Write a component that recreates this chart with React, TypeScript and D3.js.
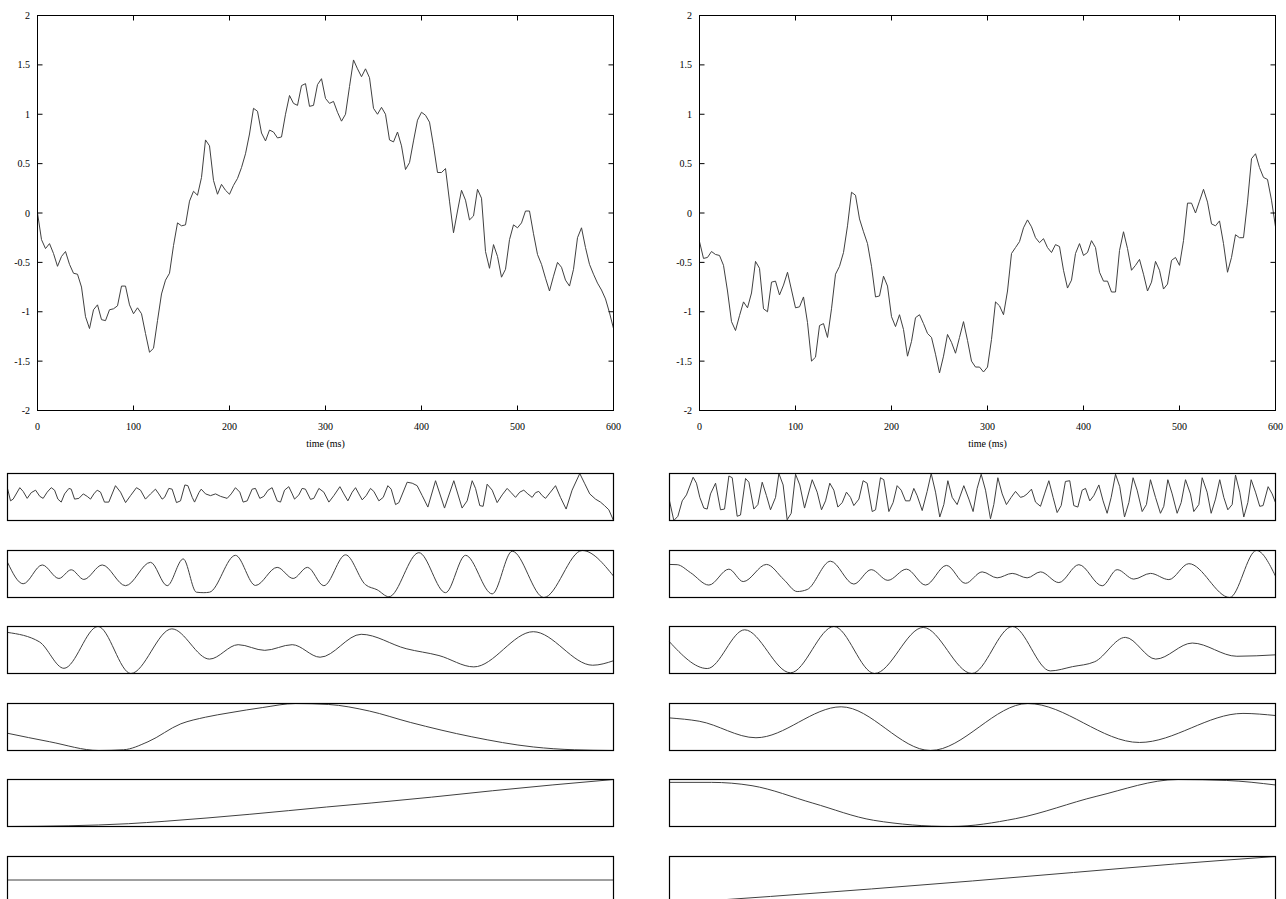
import React from 'react';
import * as d3 from 'd3';

// ---------- data ----------
const SAMPLE_COUNT = 145;
const sampleTimes = d3.range(SAMPLE_COUNT).map((i) => (i * 600) / (SAMPLE_COUNT - 1));

const leftSignal = [
  0.0, -0.27, -0.36, -0.31, -0.41, -0.54, -0.44, -0.39, -0.52, -0.61,
  -0.62, -0.75, -1.05, -1.17, -0.98, -0.93, -1.08, -1.09, -0.98, -0.97,
  -0.94, -0.74, -0.74, -0.93, -1.02, -0.96, -1.02, -1.22, -1.41, -1.37,
  -1.09, -0.82, -0.68, -0.61, -0.33, -0.1, -0.13, -0.12, 0.12, 0.22,
  0.18, 0.36, 0.74, 0.68, 0.33, 0.19, 0.29, 0.23, 0.19, 0.28,
  0.35, 0.46, 0.6, 0.8, 1.06, 1.03, 0.81, 0.73, 0.84, 0.82,
  0.76, 0.77, 1.0, 1.19, 1.11, 1.09, 1.29, 1.31, 1.08, 1.09,
  1.3, 1.36, 1.16, 1.11, 1.13, 1.02, 0.93, 1.0, 1.28, 1.55,
  1.46, 1.38, 1.46, 1.37, 1.06, 1.0, 1.07, 1.0, 0.74, 0.72,
  0.82, 0.68, 0.44, 0.51, 0.73, 0.94, 1.02, 0.99, 0.92, 0.68,
  0.41, 0.41, 0.45, 0.12, -0.2, 0.02, 0.23, 0.13, -0.07, -0.03,
  0.24, 0.15, -0.39, -0.56, -0.32, -0.44, -0.65, -0.57, -0.27, -0.12,
  -0.15, -0.1, 0.02, 0.02, -0.21, -0.42, -0.52, -0.66, -0.79, -0.64,
  -0.5, -0.55, -0.68, -0.74, -0.57, -0.25, -0.15, -0.35, -0.52, -0.62,
  -0.71, -0.78, -0.87, -1.01, -1.17,
];

const rightSignal = [
  -0.29, -0.46, -0.45, -0.39, -0.42, -0.43, -0.53, -0.79, -1.1, -1.19,
  -1.04, -0.9, -0.96, -0.81, -0.49, -0.56, -0.97, -1.0, -0.7, -0.69,
  -0.83, -0.73, -0.6, -0.78, -0.96, -0.95, -0.85, -1.11, -1.5, -1.46,
  -1.14, -1.12, -1.26, -0.97, -0.62, -0.54, -0.4, -0.13, 0.21, 0.18,
  -0.06, -0.19, -0.31, -0.54, -0.85, -0.84, -0.64, -0.74, -1.05, -1.15,
  -1.03, -1.18, -1.45, -1.3, -1.06, -1.03, -1.12, -1.22, -1.26, -1.43,
  -1.62, -1.45, -1.23, -1.31, -1.42, -1.26, -1.1, -1.29, -1.5, -1.56,
  -1.56, -1.61, -1.56, -1.28, -0.9, -0.94, -1.03, -0.79, -0.41, -0.35,
  -0.29, -0.15, -0.07, -0.14, -0.25, -0.3, -0.26, -0.35, -0.4, -0.32,
  -0.34, -0.58, -0.76, -0.68, -0.41, -0.31, -0.43, -0.4, -0.28, -0.35,
  -0.6, -0.69, -0.69, -0.8, -0.8, -0.38, -0.19, -0.36, -0.58, -0.53,
  -0.47, -0.62, -0.79, -0.7, -0.49, -0.58, -0.77, -0.72, -0.48, -0.45,
  -0.53, -0.28, 0.1, 0.1, 0.0, 0.12, 0.24, 0.11, -0.11, -0.13,
  -0.08, -0.31, -0.6, -0.45, -0.22, -0.25, -0.25, 0.11, 0.55, 0.6,
  0.46, 0.36, 0.34, 0.13, -0.14,
];

const yTicks = [-2, -1.5, -1, -0.5, 0, 0.5, 1, 1.5, 2];
const xTicks = [0, 100, 200, 300, 400, 500, 600];
const xAxisLabel = 'time (ms)';

type Pt = [number, number];

// decomposition levels, left column ([time ms, amplitude])
const leftLevel1: Pt[] = [
  [0, 0.36], [3, -0.14], [5.6, -0.07], [12.2, 0.39], [15.5, 0.24], [19.5, -0.04], [23.5, 0.19], [27.8, 0.29],
  [32, 0.04], [35.3, -0.04], [39.3, 0.21], [43.3, 0.39], [46.6, 0.29], [49.9, -0.07], [53.2, -0.19], [56.5, 0.14],
  [60.8, 0.36], [63.1, 0.33], [66.4, -0.07], [70.7, -0.04], [75, 0.14], [78.9, 0.04], [82.2, -0.07], [85.5, 0.14],
  [88.8, 0.29], [92.1, 0.21], [96, -0.19], [100.3, -0.19], [106.9, 0.47], [111.9, 0.21], [116.9, -0.21], [121.8, 0.07],
  [127.7, 0.39], [131.7, 0.29], [136.6, -0.07], [141.6, 0.14], [146.5, 0.33], [149.8, 0.14], [153.1, -0.07], [155.5, 0],
  [159.7, 0.36], [163, 0.33], [167.3, -0.21], [171.3, -0.14], [175.6, 0.5], [178.6, 0.47], [182.9, 0], [185.2, -0.19],
  [189.5, 0.19], [191.8, 0.33], [196.1, 0.14], [201, 0.07], [206, 0.14], [211, 0.04], [217.5, -0.04], [221.5, 0.14],
  [225.7, 0.39], [230, 0.21], [233.3, -0.19], [237.3, -0.14], [242.2, 0.33], [245.5, 0.36], [249.8, -0.04], [253.8, 0.04],
  [258, 0.29], [262, 0.39], [267, -0.14], [270.3, -0.19], [274.3, 0.29], [278.5, 0.43], [281.9, 0.14], [284.2, -0.07],
  [288.5, 0.1], [291.7, 0.36], [295, 0.33], [300, -0.08], [303.3, -0.04], [308.3, 0.36], [313.2, 0.21], [318.2, -0.19],
  [323.1, 0.07], [329.1, 0.43], [333, 0.14], [337, -0.14], [341.3, 0.21], [344.6, 0.39], [347.9, 0.14], [351.2, -0.1],
  [355.1, 0.07], [359.4, 0.36], [362.7, 0.24], [367.7, -0.14], [372, 0], [376.6, 0.47], [379.9, 0.33], [384.2, -0.29],
  [387.5, -0.21], [395.7, 0.61], [400.7, 0.57], [405.6, 0.47], [410.6, 0.07], [416.2, -0.39], [423.8, 0.67], [432.7, -0.43],
  [441.9, 0.67], [450.1, -0.43], [455.1, -0.14], [460.1, 0.67], [463.4, 0.36], [467.6, -0.33], [470.9, -0.36], [474.9, 0.53],
  [479.9, 0.29], [484.8, -0.21], [489.8, 0.1], [494.7, 0.36], [498.7, 0.19], [503, 0], [507.2, 0.21], [511.2, 0.29],
  [515.2, 0.14], [519.5, 0], [522.8, 0.19], [526, 0.24], [529.4, 0.07], [532.7, -0.04], [537.6, 0.21], [542.6, 0.47],
  [547.5, 0], [553.1, -0.47], [559, 0.29], [566.6, 0.96], [571.3, 0.57], [576.5, 0.14], [582.2, -0.07], [587.1, -0.19],
  [591.1, -0.33], [595.4, -0.5], [600, -0.93],
];
const leftLevel2: Pt[] = [
  [0, 0.5], [15.5, -0.39], [34.4, 0.39], [50.9, -0.17], [63.1, 0.19], [75.6, -0.21], [93.8, 0.39], [116.9, -0.47],
  [141.6, 0.5], [158.1, -0.47], [174, 0.64], [187, -0.74], [194.4, -0.76], [200, -0.74], [225.7, 0.79], [245.5, -0.46],
  [267, 0.29], [282.8, -0.17], [297, 0.29], [313.2, -0.47], [334.7, 0.81], [354.5, -0.43], [366, -0.64], [377.6, -0.93],
  [407.3, 0.9], [433.7, -0.76], [453.5, 0.79], [479.9, -0.81], [499.7, 0.96], [531, -0.96], [569, 0.99], [600, -0.07],
];
const leftLevel3: Pt[] = [
  [0, 0.75], [31.6, 0.35], [55.9, -0.77], [89.6, 1.0], [122.1, -0.99], [162.7, 0.9], [200, -0.38], [228.4, 0.23],
  [254.7, -0.01], [281.9, 0.23], [309.5, -0.3], [350.2, 0.67], [394.7, 0.06], [427.2, -0.23], [461.7, -0.71],
  [520.6, 0.78], [579.4, -0.64], [600, -0.45],
];
const leftLevel4: Pt[] = [
  [0, -0.26], [41.8, -0.62], [90.5, -0.99], [114.8, -0.96], [139.1, -0.62], [171.6, 0.14], [196, 0.42], [220.3, 0.61],
  [252.7, 0.83], [285.2, 1.0], [317.7, 0.96], [358.3, 0.68], [398.8, 0.2], [459.7, -0.41], [520.6, -0.84],
  [561.2, -0.96], [600, -0.99],
];
const leftLevel5: Pt[] = [
  [0, -1.0], [60, -0.97], [120, -0.88], [155, -0.78], [240, -0.48], [316, -0.17], [360, 0.0], [420, 0.25],
  [480, 0.52], [540, 0.77], [600, 1.0],
];
const leftApprox: Pt[] = [
  [0, 0.4], [600, 0.4],
];

// decomposition levels, right column
const rightLevel1: Pt[] = [
  [0, -0.14], [4.3, -0.93], [8.3, -0.76], [12.6, -0.14], [16.8, 0.1], [23.4, 0.81], [26.7, 0.57], [30, 0],
  [34, -0.43], [37.3, -0.47], [40.6, 0.14], [45.6, 0.57], [50.5, -0.5], [54.5, -0.47], [58.8, 0.86], [62.1, 0.79],
  [67, -0.76], [70.3, -0.71], [75.3, 0.76], [78.6, 0.61], [83.5, -0.47], [87.5, -0.29], [91.8, 0.61], [96, 0.07],
  [100, -0.5], [105, 0], [108.3, 0.96], [112.5, 0.5], [116.5, -0.9], [120.5, -0.64], [124.8, 0.93], [129, 0.5],
  [133.7, -0.43], [141.3, 0.71], [146.2, 0.21], [150.5, -0.5], [154.5, -0.14], [158.7, 0.57], [162.7, 0.29],
  [166.7, -0.39], [171, -0.21], [175.2, 0.21], [179.2, 0], [182.5, -0.33], [187.5, -0.07], [191.7, 0.67],
  [195.7, 0.57], [200.7, -0.57], [204, -0.5], [208.9, 0.79], [212.2, 0.71], [217.2, -0.57], [221.4, -0.21],
  [225.4, 0.47], [229.4, 0.29], [233.7, -0.14], [237.9, -0.14], [241.9, 0.36], [245.2, 0.07], [250.2, -0.53],
  [255.1, 0.24], [259.1, 0.96], [263.4, 0.21], [267.6, -0.79], [271.6, -0.29], [275.6, 0.67], [279.9, 0],
  [284.8, -0.29], [291.4, 0.47], [296.4, -0.07], [300.6, -0.57], [304.6, 0.36], [308.6, 0.93], [312.9, 0.29],
  [317.8, -0.86], [321.1, -0.29], [325.1, 0.79], [329.4, 0.14], [333.6, -0.29], [338.3, 0], [342.6, 0.24],
  [347.5, 0], [350.8, 0.04], [354.1, 0.14], [358.4, 0.33], [362.4, -0.19], [367.3, -0.36], [371.3, 0.14],
  [375.6, 0.67], [379.8, 0], [383.8, -0.61], [387.8, -0.33], [392, 0.64], [396.3, 0.67], [400.3, -0.33],
  [404.3, -0.39], [408.6, 0.29], [411.9, 0.36], [416.1, -0.14], [420.1, 0.07], [425.1, 0.5], [429.3, -0.14],
  [433.3, -0.64], [437.3, 0], [441.6, 0.93], [445.8, 0.43], [450.5, -0.79], [454.8, -0.21], [459, 0.79],
  [463, 0.29], [468, -0.57], [472.2, -0.29], [476.2, 0.71], [481.2, 0], [486.1, -0.64], [489.4, -0.36],
  [493.4, 0.71], [497.7, 0.14], [502.6, -0.64], [506.6, -0.21], [510.9, 0.71], [515.8, 0.14], [519.1, -0.57],
  [524.1, -0.29], [527.4, 0.79], [532.3, 0.21], [536.3, -0.64], [540.6, -0.07], [544.8, 0.71], [548.8, 0],
  [552.8, -0.5], [557.1, -0.29], [560.4, 0.9], [564.6, 0.21], [568.6, -0.79], [572.6, -0.21], [575.9, 0.71],
  [580.2, 0.21], [584.4, -0.36], [587.7, -0.33], [592.7, 0.43], [596.7, 0.14], [600, -0.21],
];
const rightLevel2: Pt[] = [
  [0, 0.4], [7.6, 0.39], [20.8, 0.07], [39, -0.43], [58.8, 0.21], [73, -0.29], [96, 0.4], [113.2, -0.21],
  [126.4, -0.69], [136.3, -0.61], [159.4, 0.53], [182.5, -0.39], [199.7, 0.19], [216.2, -0.24], [234.6, 0.21],
  [253.5, -0.43], [274.2, 0.36], [293, -0.36], [309.6, 0.1], [324.4, -0.14], [339.3, 0.04], [354.1, -0.14],
  [367.3, 0.1], [385.5, -0.33], [405.3, 0.39], [428.4, -0.46], [443.2, 0.19], [459.7, -0.19], [476.2, 0.04],
  [494.4, -0.21], [514.2, 0.43], [554.7, -0.93], [581.1, 0.96], [600, -0.07],
];
const rightLevel3: Pt[] = [
  [0, 0.35], [37.4, -0.78], [74.4, 0.86], [119.8, -0.96], [162.8, 1.0], [203, -0.99], [251.2, 0.96],
  [299.4, -0.99], [339.6, 1.0], [377, -0.88], [399, -0.7], [421.1, -0.49], [451.3, 0.54], [481.4, -0.38],
  [517.6, 0.3], [561.7, -0.26], [600, -0.2],
];
const rightLevel4: Pt[] = [
  [0, 0.39], [29.4, 0.25], [85.6, -0.45], [170, 0.86], [258.4, -0.99], [354.8, 1.0], [465.3, -0.65],
  [567.8, 0.58], [600, 0.49],
];
const rightLevel5: Pt[] = [
  [0, 0.88], [41.5, 0.88], [81.7, 0.74], [141.9, 0.01], [202.2, -0.71], [278.5, -0.97], [342.8, -0.64],
  [423.2, 0.3], [503.5, 1.0], [551.7, 0.96], [600, 0.77],
];
const rightApprox: Pt[] = [
  [0, 0.0], [100, 0.15], [200, 0.31], [300, 0.48], [400, 0.66], [500, 0.84], [600, 1.0],
];

const leftLevels = [leftLevel1, leftLevel2, leftLevel3, leftLevel4, leftLevel5, leftApprox];
const rightLevels = [rightLevel1, rightLevel2, rightLevel3, rightLevel4, rightLevel5, rightApprox];

// ---------- components ----------
const FONT = "'Liberation Serif', 'Times New Roman', serif";
const LINE_COLOR = '#404040';

function MainPanel({ x0, x1, values }: { x0: number; x1: number; values: number[] }) {
  const top = 15.5;
  const bottom = 410.5;
  const x = d3.scaleLinear().domain([0, 600]).range([x0, x1]);
  const y = d3.scaleLinear().domain([-2, 2]).range([bottom, top]);
  const line = d3
    .line<number>()
    .x((_, i) => x(sampleTimes[i]))
    .y((d) => y(d));
  const tl = 5;
  return (
    <g>
      <path d={line(values) || ''} fill="none" stroke={LINE_COLOR} strokeWidth={1} />
      <rect x={x0} y={top} width={x1 - x0} height={bottom - top} fill="none" stroke="#000" strokeWidth={1} />
      {yTicks.map((t) => (
        <g key={'y' + t}>
          <line x1={x0} x2={x0 + tl} y1={y(t)} y2={y(t)} stroke="#000" />
          <line x1={x1} x2={x1 - tl} y1={y(t)} y2={y(t)} stroke="#000" />
          <text x={x0 - 7.5} y={y(t)} dy="0.35em" textAnchor="end" fontSize={10} fontFamily={FONT}>
            {String(t)}
          </text>
        </g>
      ))}
      {xTicks.map((t) => (
        <g key={'x' + t}>
          <line x1={x(t)} x2={x(t)} y1={bottom} y2={bottom - tl} stroke="#000" />
          <line x1={x(t)} x2={x(t)} y1={top} y2={top + tl} stroke="#000" />
          <text x={x(t)} y={bottom + 19} textAnchor="middle" fontSize={10} fontFamily={FONT}>
            {String(t)}
          </text>
        </g>
      ))}
      <text x={(x0 + x1) / 2} y={446.5} textAnchor="middle" fontSize={10} fontFamily={FONT}>
        {xAxisLabel}
      </text>
    </g>
  );
}

function SmallPanel({ x0, x1, top, height, data, smooth }: { x0: number; x1: number; top: number; height: number; data: Pt[]; smooth: boolean }) {
  const x = d3.scaleLinear().domain([0, 600]).range([x0, x1]);
  let [lo, hi] = d3.extent(data, (d) => d[1]) as [number, number];
  if (lo === hi) {
    lo -= 1;
    hi += 1;
  }
  const y = d3.scaleLinear().domain([lo, hi]).range([top + height, top]);
  const line = d3
    .line<Pt>()
    .x((d) => x(d[0]))
    .y((d) => y(d[1]))
    .curve(smooth ? d3.curveMonotoneX : d3.curveLinear);
  return (
    <g>
      <path d={line(data) || ''} fill="none" stroke={LINE_COLOR} strokeWidth={1} />
      <rect x={x0} y={top} width={x1 - x0} height={height} fill="none" stroke="#000" strokeWidth={1.2} />
    </g>
  );
}

export default function App() {
  const rowTops = d3.range(6).map((k) => Math.round(473 + 76.5 * k) + 0.5);
  const h = 47;
  return (
    <svg
      width={1286}
      height={899}
      style={{ position: 'absolute', left: 0, top: 0, background: '#fff' }}
    >
      <rect x={0} y={0} width={1286} height={899} fill="#fff" />
      <MainPanel x0={37.5} x1={613.5} values={leftSignal} />
      <MainPanel x0={699.5} x1={1275.5} values={rightSignal} />
      {leftLevels.map((d, k) => (
        <SmallPanel key={'l' + k} x0={7.5} x1={613.5} top={rowTops[k]} height={h} data={d} smooth={k > 0} />
      ))}
      {rightLevels.map((d, k) => (
        <SmallPanel key={'r' + k} x0={669.5} x1={1275.5} top={rowTops[k]} height={h} data={d} smooth={k > 0} />
      ))}
    </svg>
  );
}
